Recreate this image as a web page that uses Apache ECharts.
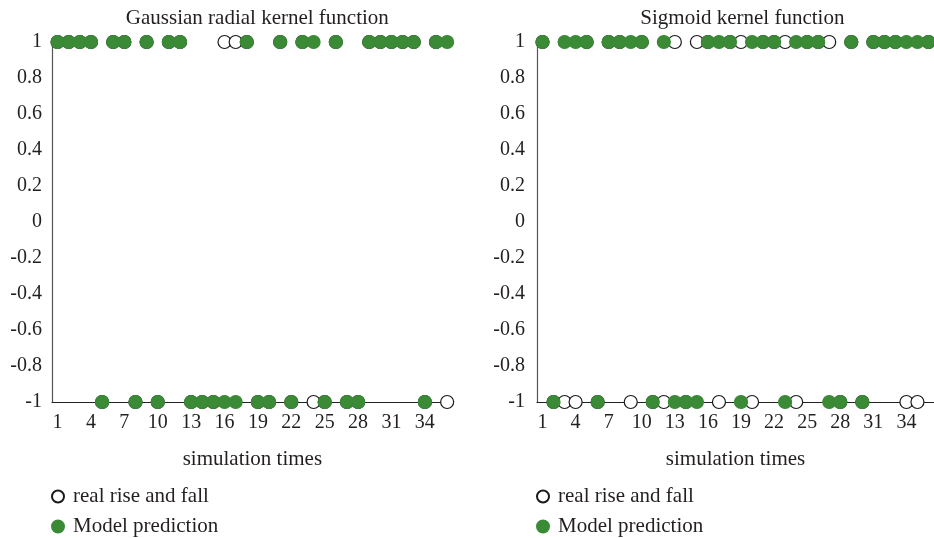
<!DOCTYPE html>
<html>
<head>
<meta charset="utf-8">
<script src="https://cdn.jsdelivr.net/npm/echarts@6/dist/echarts.min.js"></script>
<style>
  html, body { margin: 0; padding: 0; background: #fff; }
  #chart { width: 934px; height: 538px; }
</style>
</head>
<body>
<div id="chart"></div>
<script>
// Simulation runs 1..36
const simulationTimes = ['1','2','3','4','5','6','7','8','9','10','11','12','13','14','15','16','17','18',
  '19','20','21','22','23','24','25','26','27','28','29','30','31','32','33','34','35','36'];

// Gaussian radial kernel: actual direction and model output (1 = rise, -1 = fall)
const gaussReal = [1,1,1,1,-1,1,1,-1,1,-1,1,1,-1,-1,-1,1,1,1,-1,-1,1,-1,1,-1,-1,1,-1,-1,1,1,1,1,1,-1,1,-1];
const gaussPred = [1,1,1,1,-1,1,1,-1,1,-1,1,1,-1,-1,-1,-1,-1,1,-1,-1,1,-1,1,1,-1,1,-1,-1,1,1,1,1,1,-1,1,1];

// Sigmoid kernel
const sigReal = [1,-1,-1,-1,1,-1,1,1,-1,1,-1,-1,1,-1,1,1,-1,1,1,-1,1,1,1,-1,1,1,1,-1,1,-1,1,1,1,-1,-1,1];
const sigPred = [1,-1,1,1,1,-1,1,1,1,1,-1,1,-1,-1,-1,1,1,1,-1,1,1,1,-1,1,1,1,-1,-1,1,-1,1,1,1,1,1,1];

const panelTitles = ['Gaussian radial kernel function', 'Sigmoid kernel function'];
const xAxisName = 'simulation times';
const realName = 'real rise and fall';
const predName = 'Model prediction';

const FONT = '"Liberation Serif", "DejaVu Serif", serif';
const TEXT = '#231f20';
const GREEN = '#3a8a36';
const PANEL_LEFT = [52, 537];
const PANEL_W = 400.7;
const TICK_SIZE = 20;
const TEXT_SIZE = 21;

const chart = echarts.init(document.getElementById('chart'), null, { renderer: 'canvas' });

const grids = PANEL_LEFT.map(l => ({ left: l, top: 42, width: PANEL_W, height: 360 }));

const xAxes = PANEL_LEFT.map((l, i) => ({
  type: 'category',
  gridIndex: i,
  data: simulationTimes,
  boundaryGap: true,
  axisLine: { onZero: false, lineStyle: { color: '#222', width: 1.2 } },
  axisTick: { show: false },
  axisLabel: { interval: 2, margin: 11, fontFamily: FONT, fontSize: TICK_SIZE, color: TEXT },
  splitLine: { show: false },
  name: xAxisName,
  nameLocation: 'middle',
  nameGap: 47,
  nameTextStyle: { fontFamily: FONT, fontSize: TEXT_SIZE, color: TEXT }
}));

const yAxes = PANEL_LEFT.map((l, i) => ({
  type: 'value',
  gridIndex: i,
  min: -1,
  max: 1,
  interval: 0.2,
  axisLine: { show: true, lineStyle: { color: '#555', width: 1.2 } },
  axisTick: { show: false },
  splitLine: { show: false },
  axisLabel: { margin: i === 0 ? 10 : 12, fontFamily: FONT, fontSize: TICK_SIZE, color: TEXT }
}));

function realSeries(data, i) {
  return {
    name: realName, type: 'scatter', xAxisIndex: i, yAxisIndex: i,
    data: data, symbol: 'circle', symbolSize: 13,
    itemStyle: { color: '#ffffff', borderColor: '#1a1a1a', borderWidth: 1.2, opacity: 1 },
    z: 2
  };
}
function predSeries(data, i) {
  return {
    name: predName, type: 'scatter', xAxisIndex: i, yAxisIndex: i,
    data: data, symbol: 'circle', symbolSize: 13,
    itemStyle: { color: GREEN, borderColor: GREEN, borderWidth: 1.2, opacity: 1 },
    z: 3
  };
}

const option = {
  animation: false,
  backgroundColor: '#ffffff',
  title: panelTitles.map((t, i) => ({
    text: t,
    left: PANEL_LEFT[i] + PANEL_W / 2,
    textAlign: 'center',
    top: 3,
    textStyle: { fontFamily: FONT, fontSize: TEXT_SIZE, fontWeight: 'normal', color: TEXT }
  })),
  legend: PANEL_LEFT.map((l, i) => ({
    orient: 'vertical',
    left: l - 1,
    top: 486,
    height: 60,
    padding: 0,
    itemWidth: 12,
    itemHeight: 12,
    itemGap: 9,
    icon: 'circle',
    data: [realName, predName],
    textStyle: { fontFamily: FONT, fontSize: TEXT_SIZE, color: TEXT, padding: [0, 0, 0, 4] }
  })),
  grid: grids,
  xAxis: xAxes,
  yAxis: yAxes,
  series: [
    realSeries(gaussReal, 0),
    predSeries(gaussPred, 0),
    realSeries(sigReal, 1),
    predSeries(sigPred, 1)
  ]
};

chart.setOption(option);
</script>
</body>
</html>
